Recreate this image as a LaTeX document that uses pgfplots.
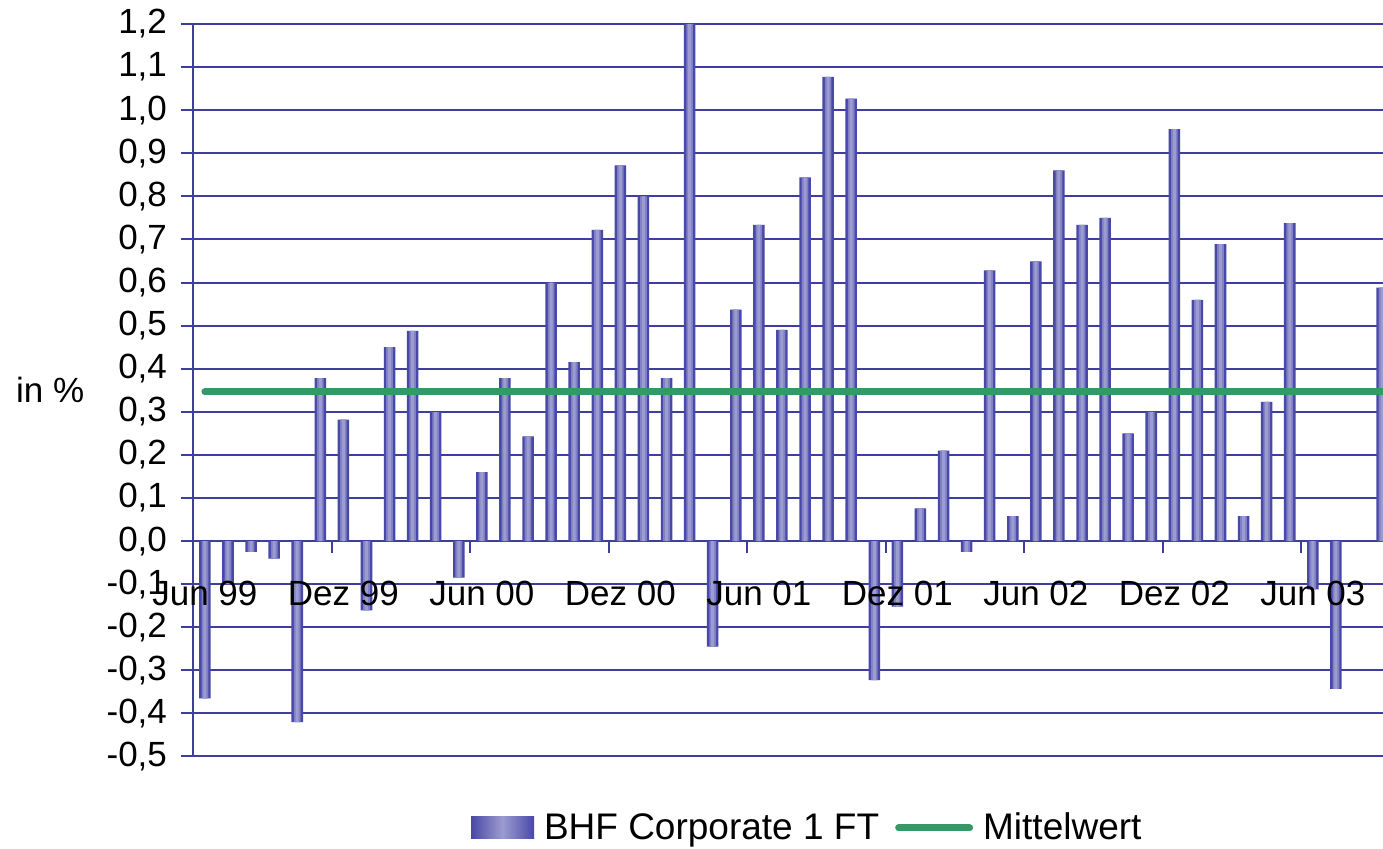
\documentclass[border=0pt]{standalone}
\usepackage{fontspec}
\setmainfont{Liberation Sans}
\usepackage{pgfplots}
\pgfplotsset{compat=1.18}

\definecolor{gridblue}{RGB}{62,62,158}
\definecolor{bardark}{RGB}{72,72,168}
\definecolor{barmid}{RGB}{128,128,196}
\definecolor{barlight}{RGB}{156,156,208}
\definecolor{meangreen}{RGB}{52,153,102}

\tikzset{monthlabel/.style={font=\fontsize{17.5}{21}\selectfont, anchor=north, yshift=-16.5pt}}

% monthly returns, Jun 99 = 0
\pgfplotstableread{
x y
0 -0.365
1 -0.100
2 -0.025
3 -0.041
4 -0.420
5 0.378
6 0.282
7 -0.161
8 0.450
9 0.488
10 0.299
11 -0.085
12 0.160
13 0.378
14 0.243
15 0.600
16 0.415
17 0.722
18 0.872
19 0.800
20 0.378
21 1.200
22 -0.245
23 0.537
24 0.734
25 0.490
26 0.844
27 1.077
28 1.027
29 -0.323
30 -0.152
31 0.076
32 0.210
33 -0.025
34 0.628
35 0.058
36 0.649
37 0.860
38 0.734
39 0.750
40 0.250
41 0.300
42 0.956
43 0.560
44 0.689
45 0.058
46 0.323
47 0.738
48 -0.112
49 -0.343
51 0.588
}\bhfdata

\begin{document}
\begin{tikzpicture}
\begin{axis}[
  at={(96.5pt,46.25pt)}, anchor=south west,
  scale only axis, width=595pt, height=366.25pt,
  xmin=-0.516, xmax=51.04, ymin=-0.5, ymax=1.2,
  axis x line*=middle, axis y line*=left,
  axis line style={draw=gridblue, line width=1pt},
  ymajorgrids, grid style={draw=gridblue, line width=1pt},
  ytick={-0.5,-0.4,-0.3,-0.2,-0.1,0,0.1,0.2,0.3,0.4,0.5,0.6,0.7,0.8,0.9,1.0,1.1,1.2},
  xtick={5.5,11.5,17.5,23.5,29.5,35.5,41.5,47.5},
  xticklabels={},
  tick align=outside, major tick length=6pt,
  tick style={draw=gridblue, line width=1pt},
  every tick label/.append style={font=\fontsize{17.5}{21}\selectfont, text=black},
  /pgf/number format/fixed, /pgf/number format/fixed zerofill,
  /pgf/number format/precision=1, /pgf/number format/use comma,
  /pgf/number format/assume math mode=true,
  yticklabel style={xshift=-3.5pt},
  ylabel={in \%},
  ylabel style={rotate=-90, anchor=center, at={(axis description cs:-0.12,0.5)}, font=\fontsize{17.5}{21}\selectfont},
  clip mode=individual,
  legend columns=-1,
  legend style={at={(axis description cs:0.517,-0.0976)}, anchor=center, draw=none, fill=none,
    font=\fontsize{18.5}{22}\selectfont,
    /tikz/every odd column/.append style={column sep=3pt},
    /tikz/every even column/.append style={column sep=6pt}},
]
% bar body, then lighter stripes in the middle
\addplot[ybar, bar width=0.5, fill=bardark, draw=none,
  legend image code/.code={
    \path[left color=bardark, right color=bardark, middle color=barlight] (0pt,-5.5pt) rectangle (31.5pt,5.5pt);}]
  table[x=x, y=y] {\bhfdata};
\addlegendentry{BHF Corporate 1 FT}
\addplot[ybar, bar width=0.29, fill=barmid, draw=none, forget plot]
  table[x=x, y=y] {\bhfdata};
\addplot[ybar, bar width=0.13, fill=barlight, draw=none, forget plot]
  table[x=x, y=y] {\bhfdata};
\addplot[meangreen, line width=3.5pt, line cap=round,
  legend image code/.code={\draw[meangreen, line width=3.5pt, line cap=round] (0pt,0pt) -- (35.5pt,0pt);}]
  coordinates {(0,0.346) (51.04,0.346)};
\addlegendentry{Mittelwert}
% month labels, set over the bars as in the original
\node[monthlabel] at (axis cs:0,0) {Jun 99};
\node[monthlabel] at (axis cs:6,0) {Dez 99};
\node[monthlabel] at (axis cs:12,0) {Jun 00};
\node[monthlabel] at (axis cs:18,0) {Dez 00};
\node[monthlabel] at (axis cs:24,0) {Jun 01};
\node[monthlabel] at (axis cs:30,0) {Dez 01};
\node[monthlabel] at (axis cs:36,0) {Jun 02};
\node[monthlabel] at (axis cs:42,0) {Dez 02};
\node[monthlabel] at (axis cs:48,0) {Jun 03};
\end{axis}
\pgfresetboundingbox
\path[use as bounding box] (0,0) rectangle (691.5pt,424.5pt);
\end{tikzpicture}
\end{document}
